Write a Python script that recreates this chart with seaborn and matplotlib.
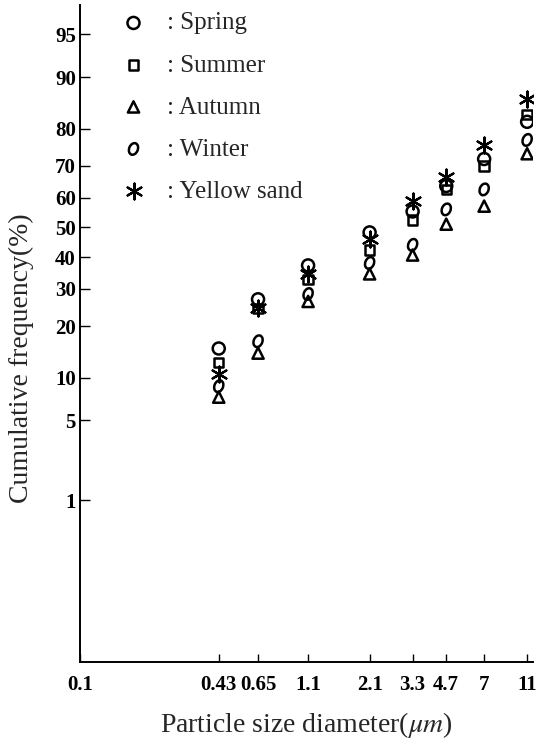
import numpy as np
import matplotlib
matplotlib.use("Agg")
import matplotlib.pyplot as plt
import seaborn as sns
from statistics import NormalDist
from matplotlib.path import Path
from matplotlib.transforms import Affine2D
from matplotlib.ticker import FixedLocator, FixedFormatter, NullLocator

# ---------------- data ----------------
sizes = [0.43, 0.65, 1.1, 2.1, 3.3, 4.7, 7, 11]

spring = [15.1, 27.0, 37.3, 48.3, 55.4, 63.8, 72.0, 81.6]
summer = [12.5, 24.4, 32.8, 42.4, 52.5, 62.7, 70.0, 83.2]
autumn = [7.4, 14.2, 26.4, 34.6, 40.7, 51.1, 57.2, 73.5]
winter = [8.8, 16.6, 28.5, 38.1, 44.1, 56.1, 62.7, 77.2]
yellow_sand = [10.5, 24.6, 34.6, 46.0, 59.0, 66.7, 76.0, 86.3]

series_names = ["Spring", "Summer", "Autumn", "Winter", "Yellow sand"]

x_tick_values = [0.1, 0.43, 0.65, 1.1, 2.1, 3.3, 4.7, 7, 11]
x_tick_labels = ["0.1", "0.43", "0.65", "1.1", "2.1", "3.3", "4.7", "7", "11"]
y_tick_values = [1, 5, 10, 20, 30, 40, 50, 60, 70, 80, 90, 95]
y_tick_labels = ["1", "5", "10", "20", "30", "40", "50", "60", "70", "80", "90", "95"]

# ---------------- probability (probit) scale ----------------
_nd = NormalDist()
_inv = np.vectorize(_nd.inv_cdf, otypes=[float])
_cdf = np.vectorize(_nd.cdf, otypes=[float])


def probit(p):
    p = np.asarray(p, dtype=float)
    q = np.clip(p / 100.0, 1e-12, 1 - 1e-12)
    return _inv(q)


def inv_probit(z):
    z = np.asarray(z, dtype=float)
    return 100.0 * _cdf(z)


# ---------------- style ----------------
sns.set_style("ticks")
plt.rcParams["font.family"] = ["Liberation Serif", "DejaVu Serif"]
plt.rcParams["mathtext.fontset"] = "stix"

W, H = 536, 743
fig = plt.figure(figsize=(W / 100, H / 100), dpi=100)
ax_left, ax_right, ax_top, ax_bottom = 80, 533, 5, 662
ax = fig.add_axes([ax_left / W, 1 - ax_bottom / H,
                   (ax_right - ax_left) / W, (ax_bottom - ax_top) / H])

ax.set_xscale("log")
ax.set_yscale("function", functions=(probit, inv_probit))
ax.set_xlim(0.1, 11.7)
ax.set_ylim(0.0106, 97.1)

winter_marker = Affine2D().scale(0.72, 1.0).rotate_deg(-22).transform_path(Path.unit_circle())

series = [spring, summer, autumn, winter, yellow_sand]
markers = ["o", "s", "^", winter_marker, (6, 2, 0)]
msizes = [75, 45, 65, 75, 130]

for name, vals, m, s in zip(series_names, series, markers, msizes):
    if m == (6, 2, 0):
        sns.scatterplot(x=sizes, y=vals, marker=m, s=s, color="black",
                        linewidth=1.6, ax=ax, label=": " + name, zorder=3)
    else:
        sns.scatterplot(x=sizes, y=vals, marker=m, s=s, color="black",
                        facecolor="none", edgecolor="black",
                        linewidth=1.8, ax=ax, label=": " + name, zorder=3)

# ---------------- axes ----------------
ax.xaxis.set_major_locator(FixedLocator(x_tick_values))
ax.xaxis.set_major_formatter(FixedFormatter(x_tick_labels))
ax.xaxis.set_minor_locator(NullLocator())
ax.yaxis.set_major_locator(FixedLocator(y_tick_values))
ax.yaxis.set_major_formatter(FixedFormatter(y_tick_labels))
ax.yaxis.set_minor_locator(NullLocator())

for side in ["top", "right"]:
    ax.spines[side].set_visible(False)
for side in ["left", "bottom"]:
    ax.spines[side].set_color("black")
    ax.spines[side].set_linewidth(1.4)

ax.tick_params(axis="y", direction="in", length=7, width=1.0, pad=3,
               labelsize=15, colors="black")
ax.tick_params(axis="x", direction="in", length=6, width=1.0, pad=9,
               labelsize=15, colors="black")
for lab in ax.get_xticklabels() + ax.get_yticklabels():
    lab.set_fontweight("bold")

ax.set_xlabel("Particle size diameter($\\mu m$)", fontsize=20)
ax.xaxis.set_label_coords(0.5, (ax_bottom - 710) / (ax_bottom - ax_top))
ax.set_ylabel("Cumulative frequency(%)", fontsize=20)
ax.yaxis.set_label_coords((34 - ax_left) / (ax_right - ax_left),
                          (ax_bottom - 358) / (ax_bottom - ax_top))

ax.legend(loc="upper left", bbox_to_anchor=(121 / W, 1 - 12 / H),
          bbox_transform=fig.transFigure, frameon=False, fontsize=18,
          handletextpad=0.85, labelspacing=0.78, borderpad=0,
          borderaxespad=0, handlelength=1.0, scatterpoints=1)

ax.grid(False)
fig.savefig("out.png", dpi=100)
